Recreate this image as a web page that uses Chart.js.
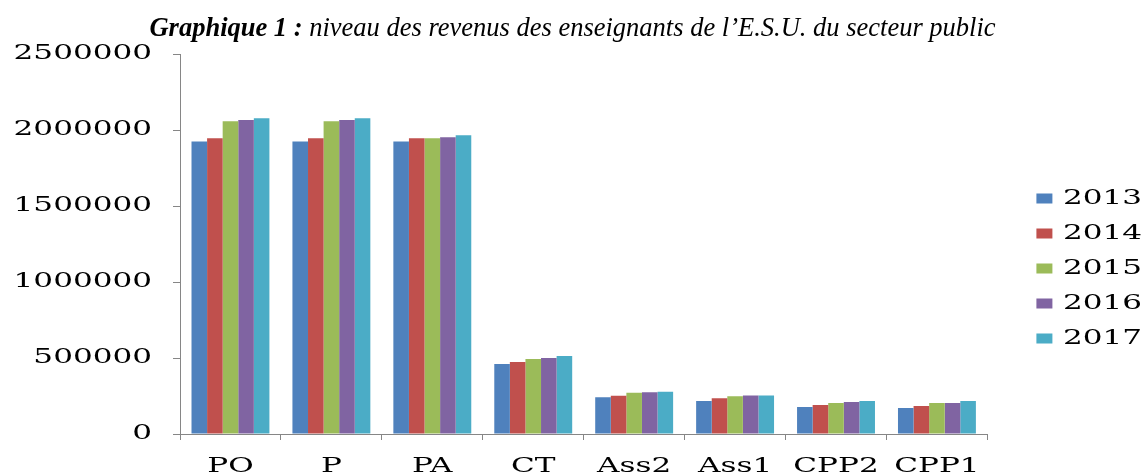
<!DOCTYPE html>
<html>
<head>
<meta charset="utf-8">
<script src="https://cdn.jsdelivr.net/npm/chart.js@4/dist/chart.umd.min.js"></script>
<style>
  html, body { margin: 0; padding: 0; background: #ffffff; }
  canvas { display: block; }
</style>
</head>
<body>
<canvas id="c" width="1145" height="473"></canvas>
<script>
const categories = ['PO', 'P', 'PA', 'CT', 'Ass2', 'Ass1', 'CPP2', 'CPP1'];
const years = ['2013', '2014', '2015', '2016', '2017'];
const s2013 = [1925000, 1925000, 1925000, 460000, 241000, 217000, 178000, 171000];
const s2014 = [1945000, 1945000, 1945000, 474000, 252000, 235000, 191000, 184000];
const s2015 = [2057000, 2057000, 1945000, 493000, 272000, 248000, 204000, 204000];
const s2016 = [2066000, 2066000, 1952000, 500000, 274000, 254000, 210000, 204000];
const s2017 = [2077000, 2077000, 1965000, 513000, 278000, 254000, 217000, 217000];
const yTicks = [0, 500000, 1000000, 1500000, 2000000, 2500000];
const titleBold = 'Graphique 1 :';
const titleRest = ' niveau des revenus des enseignants de l\u2019E.S.U. du secteur public';

const colors = ['#4F81BD', '#C0504D', '#9BBB59', '#8064A2', '#4BACC6'];
const seriesValues = [s2013, s2014, s2015, s2016, s2017];

// Axis / legend font in the reference is a very wide serif: render the library's
// own text horizontally stretched.
const STRETCH = 1.48;
const wideText = {
  id: 'wideText',
  beforeInit(chart) {
    const ctx = chart.ctx;
    const origFill = ctx.fillText.bind(ctx);
    const origMeasure = ctx.measureText.bind(ctx);
    ctx.__stretch = true;
    ctx.fillText = function (t, x, y) {
      if (!ctx.__stretch) return origFill(t, x, y);
      ctx.save();
      ctx.translate(x, y);
      ctx.scale(STRETCH, 1);
      origFill(t, 0, 0);
      ctx.restore();
    };
    ctx.measureText = function (t) {
      const m = origMeasure(t);
      if (!ctx.__stretch) return m;
      return {
        width: m.width * STRETCH,
        actualBoundingBoxAscent: m.actualBoundingBoxAscent,
        actualBoundingBoxDescent: m.actualBoundingBoxDescent,
        actualBoundingBoxLeft: m.actualBoundingBoxLeft * STRETCH,
        actualBoundingBoxRight: m.actualBoundingBoxRight * STRETCH
      };
    };
  }
};

const mixedTitle = {
  id: 'mixedTitle',
  afterDraw(chart) {
    const ctx = chart.ctx;
    ctx.save();
    ctx.__stretch = false;
    const fb = 'italic bold 26.5px "Liberation Serif"';
    const fr = 'italic 26.5px "Liberation Serif"';
    ctx.font = fb; const w1 = ctx.measureText(titleBold).width;
    ctx.font = fr; const w2 = ctx.measureText(titleRest).width;
    const x0 = chart.width / 2 - (w1 + w2) / 2;
    const y = 36;
    ctx.fillStyle = '#000';
    ctx.textAlign = 'left';
    ctx.textBaseline = 'alphabetic';
    ctx.font = fb; ctx.fillText(titleBold, x0, y);
    ctx.font = fr; ctx.fillText(titleRest, x0 + w1, y);
    ctx.__stretch = true;
    ctx.restore();
  }
};

const tickFont = { family: '"DejaVu Serif"', size: 21 };

new Chart(document.getElementById('c'), {
  type: 'bar',
  data: {
    labels: categories,
    datasets: years.map((y, i) => ({
      label: y,
      data: seriesValues[i],
      backgroundColor: colors[i],
      borderWidth: 0,
      categoryPercentage: 0.772,
      barPercentage: 1.0
    }))
  },
  options: {
    responsive: false,
    animation: false,
    devicePixelRatio: 1,
    layout: { padding: { top: 54, right: -7, bottom: 0, left: 0 } },
    plugins: {
      title: { display: false },
      tooltip: { enabled: false },
      legend: {
        position: 'right',
        align: 'center',
        title: { display: true, text: ' ', font: { size: 10, lineHeight: 1 }, padding: 0 },
        labels: {
          boxWidth: 16,
          boxHeight: 10,
          padding: 14,
          color: '#000',
          font: tickFont
        }
      }
    },
    scales: {
      x: {
        grid: { drawOnChartArea: false, drawTicks: true, tickLength: 6, color: '#868686', offset: true },
        border: { display: true, color: '#868686', width: 1 },
        ticks: { color: '#000', font: tickFont, padding: 14, maxRotation: 0, autoSkip: false },
        afterFit(s) { s.height = 39; }
      },
      y: {
        min: 0,
        max: 2500000,
        grid: { drawOnChartArea: false, drawTicks: true, tickLength: 7, color: '#868686' },
        border: { display: true, color: '#868686', width: 1 },
        afterBuildTicks(s) { s.ticks = yTicks.map(v => ({ value: v })); },
        ticks: {
          color: '#000',
          font: tickFont,
          padding: 21,
          callback: v => String(v)
        },
        afterFit(s) { s.width = 180; }
      },
      spacer: {
        type: 'linear',
        position: 'right',
        display: true,
        grid: { display: false, drawTicks: false },
        border: { display: false },
        ticks: { display: false },
        afterFit(s) { s.width = 35; }
      }
    }
  },
  plugins: [wideText, mixedTitle]
});
</script>
</body>
</html>
